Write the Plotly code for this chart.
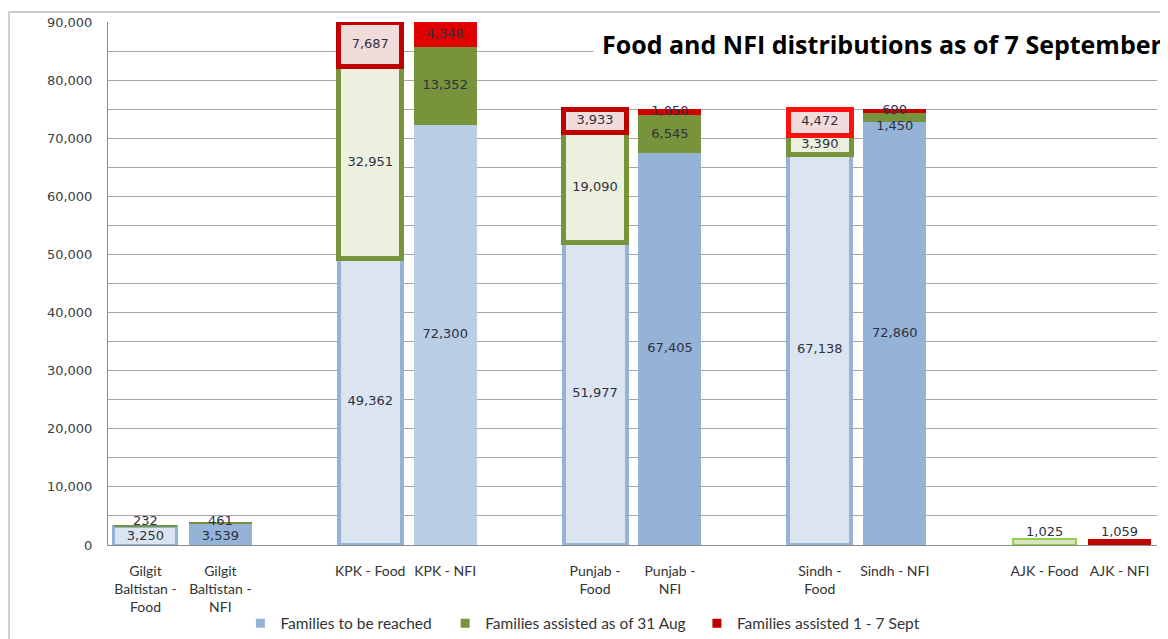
import plotly.graph_objects as go

categories = ["Gilgit<br>Baltistan -<br>Food", "Gilgit<br>Baltistan -<br>NFI",
              "KPK - Food", "KPK - NFI",
              "Punjab -<br>Food", "Punjab -<br>NFI",
              "Sindh -<br>Food", "Sindh - NFI",
              "AJK - Food", "AJK - NFI"]
to_reach = [3250, 3539, 49362, 72300, 51977, 67405, 67138, 72860, 0, 0]
assisted_aug = [232, 461, 32951, 13352, 19090, 6545, 3390, 1450, 1025, 0]
assisted_sept = [0, 0, 7687, 4348, 3933, 1050, 4472, 690, 0, 1059]
series_names = ["Families to be reached", "Families assisted as of 31 Aug", "Families assisted 1 - 7 Sept"]
y_ticks = [0, 10000, 20000, 30000, 40000, 50000, 60000, 70000, 80000, 90000]

# styles per bar (Food bars are outlined, NFI bars are solid)
blue_fill = ["#dbe5f1", "#95b3d7", "#dbe5f1", "#b9cde5", "#dbe5f1", "#95b3d7", "#dbe5f1", "#95b3d7", "#dbe5f1", "#95b3d7"]
blue_line = ["#95b3d7", "#95b3d7", "#95b3d7", "#b9cde5", "#95b3d7", "#95b3d7", "#95b3d7", "#95b3d7", "#95b3d7", "#95b3d7"]
blue_lw = [3, 0, 4, 0, 4, 0, 4, 0, 0, 0]
green_fill = ["#77933c", "#77933c", "#ebf1de", "#77933c", "#ebf1de", "#77933c", "#ebf1de", "#77933c", "#d7e4bd", "#77933c"]
green_line = ["#77933c", "#77933c", "#77933c", "#77933c", "#77933c", "#77933c", "#77933c", "#77933c", "#92d050", "#77933c"]
green_lw = [0, 0, 5, 0, 5, 0, 5, 0, 2, 0]
red_fill = ["#c00000", "#c00000", "#f2dcdb", "#e00000", "#f2dcdb", "#d00000", "#f2dcdb", "#c80000", "#c00000", "#c00000"]
red_line = ["#c00000", "#c00000", "#c00000", "#e00000", "#c00000", "#d00000", "#ff1010", "#c80000", "#c00000", "#c00000"]
red_lw = [0, 0, 5, 0, 5, 0, 5, 0, 0, 0]
legend_colors = ["#95b3d7", "#77933c", "#c00000"]

pos = [3 * (i // 2) + (i % 2) for i in range(len(categories))]

fig = go.Figure()
segments = [(to_reach, blue_fill, blue_line, blue_lw),
            (assisted_aug, green_fill, green_line, green_lw),
            (assisted_sept, red_fill, red_line, red_lw)]
for name, (vals, fc, lc, lw) in zip(series_names, segments):
    fig.add_trace(go.Bar(x=pos, y=vals, width=0.84, name=name, showlegend=False,
                         marker=dict(color=fc, line=dict(color=lc, width=lw)),
                         hoverinfo="skip"))

# data labels (centred in segments; pushed apart from the top down when segments are thin)
MIN_GAP = 2700
lab_x, lab_y, lab_t, lab_pos = [], [], [], []
for i in range(len(categories)):
    vals = [to_reach[i], assisted_aug[i], assisted_sept[i]]
    total = sum(vals)
    ys, ts = [], []
    base = 0
    for v in vals:
        if v > 0:
            ys.append(base + v / 2)
            ts.append(f"{v:,}")
        base += v
    if total < 3000:
        for t in ts:
            lab_x.append(pos[i]); lab_y.append(total); lab_t.append(t); lab_pos.append("top center")
        continue
    for k in range(len(ys) - 2, -1, -1):
        ys[k] = min(ys[k], ys[k + 1] - MIN_GAP)
    if ys and ys[0] < MIN_GAP / 2:
        shift = MIN_GAP / 2 - ys[0]
        ys = [y + shift for y in ys]
    for y, t in zip(ys, ts):
        lab_x.append(pos[i]); lab_y.append(y); lab_t.append(t); lab_pos.append("middle center")
fig.add_trace(go.Scatter(x=lab_x, y=lab_y, text=lab_t, mode="text", textposition=lab_pos,
                         textfont=dict(family="DejaVu Sans", size=13, color="#2f3040"),
                         showlegend=False, hoverinfo="skip", cliponaxis=False))

# legend entries, each in its own legend for exact placement
legend_x = [0.1262, 0.3214, 0.5614]
legend_keys = ["legend", "legend2", "legend3"]
for name, col, lk in zip(series_names, legend_colors, legend_keys):
    fig.add_trace(go.Scatter(x=[None], y=[None], name=name, mode="markers", legend=lk,
                             marker=dict(symbol="square", size=9, color=col)))

legend_common = dict(orientation="h", xanchor="left", y=-0.118, yanchor="top",
                     bgcolor="rgba(0,0,0,0)", borderwidth=0,
                     font=dict(family="Lato", size=15.5, color="#333333"))

fig.update_layout(
    width=1160, height=631,
    margin=dict(l=99.5, r=10.5, t=14, b=94, autoexpand=False),
    paper_bgcolor="white", plot_bgcolor="white",
    barmode="stack",
    showlegend=True,
    legend=dict(x=legend_x[0], **legend_common),
    legend2=dict(x=legend_x[1], **legend_common),
    legend3=dict(x=legend_x[2], **legend_common),
    xaxis=dict(range=[-0.5, 13.5], tickmode="array", tickvals=pos, ticktext=categories,
               showgrid=False, zeroline=False, showline=True, linecolor="#8c8c8c", linewidth=1,
               ticks="", tickfont=dict(family="Lato", size=14, color="#333333"),
               ticklabelstandoff=13, fixedrange=True),
    yaxis=dict(range=[0, 90000], tickmode="array", tickvals=y_ticks,
               ticktext=[f"{v:,}" for v in y_ticks],
               showgrid=True, gridcolor="#a6a6a6", gridwidth=1,
               minor=dict(dtick=5000, showgrid=True, gridcolor="#a6a6a6", gridwidth=1),
               zeroline=False, showline=True, linecolor="#8c8c8c", linewidth=1,
               ticks="", tickfont=dict(family="DejaVu Sans", size=13, color="#404040"),
               ticklabelstandoff=12, fixedrange=True),
    annotations=[dict(text="<b>Food and NFI distributions as of 7 September</b>",
                      xref="paper", yref="paper", x=1.0129, y=0.957, xanchor="right", yanchor="middle",
                      showarrow=False, bgcolor="white", borderpad=8,
                      font=dict(family="Open Sans", size=25, color="#000000"))],
    shapes=[dict(type="rect", xref="paper", yref="paper", x0=-0.0943, x1=1.0081, y0=-0.3, y1=1.0191,
                 line=dict(color="#bfbfbf", width=1.5), fillcolor="rgba(0,0,0,0)", layer="above")],
)

fig.write_html("out.html")
